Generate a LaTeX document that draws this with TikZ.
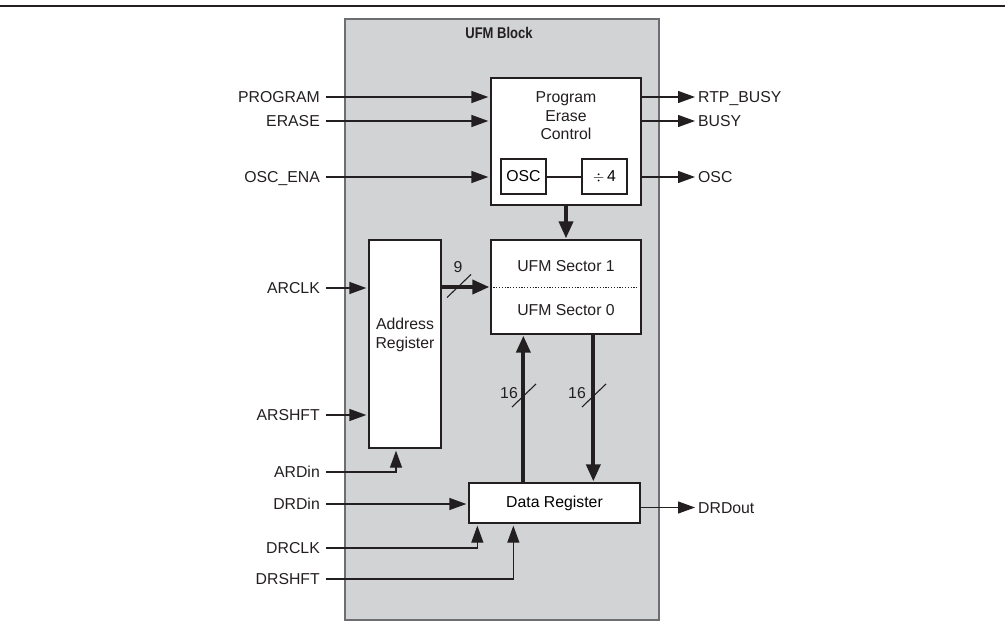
\documentclass[tikz,border=0pt]{standalone}
\usepackage{fontspec}
\usepackage{graphicx}
\setmainfont{Liberation Sans}
\usetikzlibrary{arrows.meta}
\definecolor{blockgray}{HTML}{D1D3D4}
\definecolor{blockedge}{HTML}{6D6E71}
\definecolor{ink}{HTML}{231F20}
\begin{document}
\begin{tikzpicture}[x=1pt,y=-1pt,
  font=\fontsize{15.8}{18.5}\selectfont,
  box/.style={draw=ink, fill=white, line width=1.3pt, inner sep=0pt},
  txt/.style={inner sep=0pt, align=center, text=ink},
  lbl/.style={inner sep=0pt, text height=11.3pt, text depth=0pt, text=ink},
  sig/.style={draw=ink, line width=1.3pt},
  arr/.style={sig, -{Triangle[length=17pt,width=12pt]}, shorten >=2pt},
  bus/.style={draw=ink, line width=3.8pt, -{Triangle[length=17pt,width=14pt]}, shorten >=1pt},
  slash/.style={draw=ink, line width=1.1pt}
]
\useasboundingbox (0,0) rectangle (1005,626);
% top rule
\draw[ink, line width=2.7pt] (0,6) -- (1005,6);
% UFM block
\node[draw=blockedge, fill=blockgray, line width=1.6pt, inner sep=0pt,
      minimum width=314pt, minimum height=601pt] (ufm) at (502,319.5) {};
\node[txt] (title) at (499,33) {\fontsize{15.5}{18}\selectfont\bfseries\scalebox{0.84}[1]{UFM Block}};

% Program erase control
\node[box, minimum width=150pt, minimum height=127pt] (pec) at (566,141.5) {};
\node[txt] (pectxt) at (566,116) {Program\\Erase\\Control};
\node[box, minimum width=45pt, minimum height=35pt] (osc) at (523.5,176.5) {OSC};
\node[box, minimum width=45pt, minimum height=35pt] (div) at (604.5,176.5) {$\div$\,4};
\draw[ink, line width=2pt] (osc.east) -- (div.west);

% UFM sectors
\node[box, minimum width=150pt, minimum height=94pt] (sector) at (566,287) {};
\node[txt] (sec1) at (566,266) {UFM Sector 1};
\node[txt] (sec0) at (566,310) {UFM Sector 0};
\draw[ink, line width=0.9pt, dash pattern=on 1.2pt off 1.6pt]
  ([xshift=3pt]sector.west) -- ([xshift=-4pt]sector.east);

% Address register
\node[box, minimum width=72pt, minimum height=208pt] (addr) at (405,344) {};
\node[txt] (addrtxt) at (405,335) {Address\\Register};

% Data register
\node[box, minimum width=171pt, minimum height=40pt] (dreg) at (554.5,503) {Data Register};

% input labels
\node[lbl, anchor=east] (iprog) at (320,97) {PROGRAM};
\node[lbl, anchor=east] (ierase) at (320,121) {ERASE};
\node[lbl, anchor=east] (iosc) at (320,177) {OSC\_ENA};
\node[lbl, anchor=east] (iarclk) at (320,288) {ARCLK};
\node[lbl, anchor=east] (iarshft) at (320,415) {ARSHFT};
\node[lbl, anchor=east] (iardin) at (320,472) {ARDin};
\node[lbl, anchor=east] (idrdin) at (320,504) {DRDin};
\node[lbl, anchor=east] (idrclk) at (320,548) {DRCLK};
\node[lbl, anchor=east] (idrshft) at (320,579) {DRSHFT};

% output labels
\node[lbl, anchor=west] (ortp) at (698,97) {RTP\_BUSY};
\node[lbl, anchor=west] (obusy) at (698,121) {BUSY};
\node[lbl, anchor=west] (oosc) at (698,177) {OSC};
\node[lbl, anchor=west] (odrdout) at (698,507.5) {DRDout};

% input connectors
\draw[arr] ([xshift=6pt]iprog.east) -- (iprog.east -| pec.west);
\draw[arr] ([xshift=6pt]ierase.east) -- (ierase.east -| pec.west);
\draw[arr] ([xshift=6pt]iosc.east) -- (iosc.east -| pec.west);
\draw[arr] ([xshift=6pt]iarclk.east) -- (iarclk.east -| addr.west);
\draw[arr] ([xshift=6pt]iarshft.east) -- (iarshft.east -| addr.west);
\draw[arr] ([xshift=6pt]iardin.east) -| ([xshift=-9pt]addr.south);
\draw[arr] ([xshift=6pt]idrdin.east) -- (idrdin.east -| dreg.west);
\draw[arr] ([xshift=6pt]idrclk.east) -| ([xshift=9pt]dreg.south west);
\draw[arr] ([xshift=6pt]idrshft.east) -| ([xshift=45pt]dreg.south west);

% output connectors
\draw[arr] (ortp.west -| pec.east) -- ([xshift=-1pt]ortp.west);
\draw[arr] (obusy.west -| pec.east) -- ([xshift=-1pt]obusy.west);
\draw[arr] (oosc.west -| pec.east) -- ([xshift=-1pt]oosc.west);
\draw[arr] (odrdout.west -| dreg.east) -- ([xshift=-1pt]odrdout.west);

% buses
\draw[bus] (pec.south) -- (sector.north);
\draw[bus] (addr.east |- sector.west) -- (sector.west);
\draw[bus] ([xshift=55pt]dreg.north west) -- ([xshift=33pt]sector.south west);
\draw[bus] ([xshift=103pt]sector.south west) -- ([xshift=125pt]dreg.north west);

% bus width marks
\draw[slash] (447,297.5) -- (471,274.5);
\node[txt] (w9) at (458,267) {9};
\draw[slash] (512,407) -- (536,384);
\node[txt] (w16a) at (509,393.5) {16};
\draw[slash] (582,407) -- (606,384);
\node[txt] (w16b) at (577,393.5) {16};
\end{tikzpicture}
\end{document}
